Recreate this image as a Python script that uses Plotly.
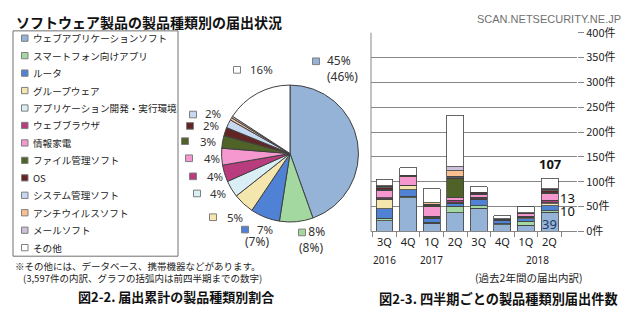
import plotly.graph_objects as go

W, H = 640, 325

# ---------------- data ----------------
categories = ["ウェブアプリケーションソフト", "スマートフォン向けアプリ", "ルータ", "グループウェア",
              "アプリケーション開発・実行環境", "ウェブブラウザ", "情報家電", "ファイル管理ソフト",
              "OS", "システム管理ソフト", "アンチウイルスソフト", "メールソフト", "その他"]
colors = ["#95B3D7", "#A3D9A0", "#4F81D5", "#F5E6AE", "#D9EFF5", "#B83C7E", "#F598CF",
          "#4F6228", "#632523", "#C6D9F1", "#FAC090", "#CCC0DA", "#FFFFFF"]

# cumulative share (%) for pie
pie_share = [45, 8, 7, 5, 4, 4, 4, 3, 2, 2, 0.6, 0.4, 16]
pie_text = ["45%", "8%", "7%", "5%", "4%", "4%", "4%", "3%", "2%", "2%", "", "", "16%"]
pie_prev = ["(46%)", "(8%)", "(7%)", "", "", "", "", "", "", "", "", "", ""]

# quarterly counts
quarter_keys = ["2016-3Q", "2016-4Q", "2017-1Q", "2017-2Q", "2017-3Q", "2017-4Q", "2018-1Q", "2018-2Q"]
quarter_labels = ["3Q", "4Q", "1Q", "2Q", "3Q", "4Q", "1Q", "2Q"]
web_app = [22, 68, 17, 38, 47, 14, 13, 39]
smartphone = [5, 3, 2, 13, 5, 2, 8, 3]
router = [19, 13, 8, 5, 12, 6, 5, 10]
groupware = [19, 8, 2, 1, 1, 1, 2, 4]
app_dev = [1, 0, 1, 2, 1, 1, 1, 2]
browser = [2, 1, 1, 4, 3, 0, 2, 5]
appliance = [15, 17, 19, 5, 6, 1, 5, 13]
file_mgmt = [2, 2, 3, 38, 1, 0, 0, 2]
os_ = [3, 1, 1, 2, 2, 0, 1, 4]
sys_mgmt = [2, 0, 1, 3, 1, 1, 1, 2]
antivirus = [1, 0, 3, 11, 0, 0, 0, 1]
mail = [1, 0, 0, 8, 0, 0, 0, 1]
other = [13, 15, 28, 104, 11, 6, 12, 21]
series = [web_app, smartphone, router, groupware, app_dev, browser, appliance,
          file_mgmt, os_, sys_mgmt, antivirus, mail, other]

year_labels = ["2016", "2017", "2018"]
year_pos = [0, 2, 6.5]
y_ticks = [0, 50, 100, 150, 200, 250, 300, 350, 400]
y_tick_labels = [f"{v}件" for v in y_ticks]

# ---------------- helpers ----------------
def px(x):
    return x / W

def py(y):
    return 1 - y / H

JP = "Noto Sans CJK JP"
EDGE = "#404040"

fig = go.Figure()

# pie
fig.add_trace(go.Pie(
    labels=categories, values=pie_share, sort=False, direction="clockwise", rotation=0,
    marker=dict(colors=colors, line=dict(color=EDGE, width=1)),
    textinfo="none", hoverinfo="label+percent", showlegend=False,
    domain=dict(x=[px(218), px(362)], y=[py(224), py(80)]),
))

# stacked bars
for name, vals, c in zip(categories, series, colors):
    fig.add_trace(go.Bar(
        x=quarter_keys, y=vals, name=name, marker=dict(color=c, line=dict(color=EDGE, width=0.8)),
        xaxis="x", yaxis="y", showlegend=False, width=0.72,
    ))

shapes = []
annotations = []

# title & watermark
annotations.append(dict(text="<b>ソフトウェア製品の製品種類別の届出状況</b>", x=px(14), y=py(14),
                        xref="paper", yref="paper", xanchor="left", yanchor="middle", showarrow=False,
                        font=dict(family=JP, size=14, color="#111")))
annotations.append(dict(text="SCAN.NETSECURITY.NE.JP", x=px(623), y=py(10), xref="paper", yref="paper",
                        xanchor="right", yanchor="middle", showarrow=False,
                        font=dict(family="Liberation Sans", size=11, color="#707070")))

# manual legend
shapes.append(dict(type="rect", xref="paper", yref="paper", x0=px(13), x1=px(178), y0=py(260), y1=py(23),
                   line=dict(color="#707070", width=1), fillcolor="rgba(0,0,0,0)"))
for i, (name, c) in enumerate(zip(categories, colors)):
    yc = 30.7 + i * 18.36
    shapes.append(dict(type="rect", xref="paper", yref="paper", x0=px(21.5), x1=px(28), y0=py(yc + 3.3),
                       y1=py(yc - 3.3), line=dict(color="#7F7F7F", width=1), fillcolor=c))
    annotations.append(dict(text=name, x=px(31), y=py(yc), xref="paper", yref="paper", xanchor="left",
                            yanchor="middle", showarrow=False, font=dict(family=JP, size=9.6, color="#1a1a1a")))

# pie labels (key position, text position)
pie_label_layout = [
    (316, 55, 325, 63, True), (302, 235, 311, 242, True), (245, 232, 255, 232, False),
    (213, 219, 225, 219, False), (197, 194, 208, 194, False), (193, 176, 205, 176, False),
    (189, 157, 202, 157, False), (185, 139, 198, 139, False), (190, 123, 201, 123, False),
    (193, 111, 203, 110, False), None, None, (237, 64, 248, 64, False),
]
for i, lay in enumerate(pie_label_layout):
    if lay is None:
        continue
    kx, ky, tx, ty, two = lay
    shapes.append(dict(type="rect", xref="paper", yref="paper", x0=px(kx - 3.5), x1=px(kx + 3.5),
                       y0=py(ky + 3.5), y1=py(ky - 3.5), line=dict(color="#7F7F7F", width=1),
                       fillcolor=colors[i]))
    if two:
        if i == 0:
            txt = f"{pie_text[i]}<br>{pie_prev[i]}"
            annotations.append(dict(text=txt, x=px(tx), y=py(ty), xref="paper", yref="paper",
                                    xanchor="left", yanchor="middle", align="left", showarrow=False,
                                    font=dict(family="Noto Sans", size=12, color="#333")))
        else:
            txt = f"&nbsp;&nbsp;&nbsp;{pie_text[i]}<br>{pie_prev[i]}"
            annotations.append(dict(text=txt, x=px(tx - 14), y=py(ty), xref="paper", yref="paper",
                                    xanchor="left", yanchor="middle", align="left", showarrow=False,
                                    font=dict(family="Noto Sans", size=12, color="#333")))
    else:
        annotations.append(dict(text=pie_text[i], x=px(tx), y=py(ty), xref="paper", yref="paper",
                                xanchor="left", yanchor="middle", showarrow=False,
                                font=dict(family="Noto Sans", size=11.5, color="#333")))
# router previous value (sits just under its current value)
annotations.append(dict(text=pie_prev[2], x=px(243), y=py(245), xref="paper", yref="paper",
                        xanchor="left", yanchor="middle", showarrow=False,
                        font=dict(family="Noto Sans", size=12, color="#333")))

# bar annotations on latest quarter
last = len(quarter_keys) - 1
total_last = sum(s[last] for s in series)
annotations.append(dict(text=f"<b>{total_last}</b>", x=quarter_keys[last], y=total_last, xref="x", yref="y",
                        yanchor="bottom", yshift=3, showarrow=False,
                        font=dict(family="Noto Sans", size=13, color="#111")))
cum_router = web_app[last] + smartphone[last]
cum_app = sum(s[last] for s in series[:6])
annotations.append(dict(text=str(web_app[last]), x=quarter_keys[last], y=web_app[last] / 2, xref="x", yref="y",
                        yshift=-2, showarrow=False, font=dict(family="Noto Sans", size=13, color="#1F3864")))
annotations.append(dict(text=str(router[last]), x=last + 0.36, y=cum_router + router[last] / 2, xref="x",
                        yref="y", xanchor="left", yshift=-3, showarrow=False,
                        font=dict(family="Noto Sans", size=13, color="#111")))
annotations.append(dict(text=str(appliance[last]), x=last + 0.36, y=cum_app + appliance[last] / 2, xref="x",
                        yref="y", xanchor="left", yshift=-1, showarrow=False,
                        font=dict(family="Noto Sans", size=13, color="#111")))

# year labels under the quarter axis
for lab, pos in zip(year_labels, year_pos):
    annotations.append(dict(text=lab, x=pos, y=py(264), xref="x", yref="paper", showarrow=False,
                            yanchor="middle", font=dict(family="Noto Sans", size=10, color="#222")))

# left axis line of bar chart
shapes.append(dict(type="line", xref="x domain", yref="y domain", x0=0, x1=0, y0=0, y1=1,
                   line=dict(color="#878787", width=1)))

# footnotes / captions
annotations += [
    dict(text="※その他には、データベース、携帯機器などがあります。", x=px(13), y=py(270), xanchor="left",
         font=dict(family=JP, size=9.5, color="#222")),
    dict(text="(3,597件の内訳、グラフの括弧内は前四半期までの数字)", x=px(21), y=py(283), xanchor="left",
         font=dict(family=JP, size=9.5, color="#222")),
    dict(text="<b>図2-2. 届出累計の製品種類別割合</b>", x=px(176), y=py(302), xanchor="center",
         font=dict(family=JP, size=13, color="#111")),
    dict(text="(過去2年間の届出内訳)", x=px(528), y=py(282), xanchor="center",
         font=dict(family=JP, size=10.5, color="#222")),
    dict(text="<b>図2-3. 四半期ごとの製品種類別届出件数</b>", x=px(498), y=py(305), xanchor="center",
         font=dict(family=JP, size=13.2, color="#111")),
]
for a in annotations[-5:]:
    a.update(xref="paper", yref="paper", yanchor="middle", showarrow=False)

fig.update_layout(
    width=W, height=H, margin=dict(l=0, r=0, t=0, b=0),
    paper_bgcolor="white", plot_bgcolor="white", barmode="stack", bargap=0.28,
    xaxis=dict(domain=[px(371), px(577)], type="category", tickvals=quarter_keys, ticktext=quarter_labels,
               tickson="boundaries", ticks="outside", ticklen=5, tickcolor="#878787", tickangle=0,
               showline=True, linecolor="#878787", linewidth=1, showgrid=False,
               tickfont=dict(family="Noto Sans", size=11, color="#222"), anchor="y"),
    yaxis=dict(domain=[py(234), py(25)], range=[0, 400], side="right", tickvals=y_ticks,
               ticktext=y_tick_labels, showgrid=True, gridcolor="#878787", gridwidth=1,
               ticks="outside", ticklen=6, tickcolor="#878787", zeroline=False, anchor="x",
               tickfont=dict(family=JP, size=11, color="#222")),
    shapes=shapes, annotations=annotations,
)

fig.write_html("out.html")
